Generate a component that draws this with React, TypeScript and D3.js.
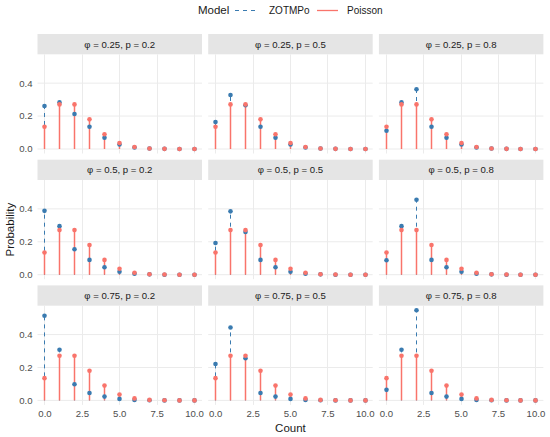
import React from "react";
import * as d3 from "d3";

// counts on the x axis
const counts = [0, 1, 2, 3, 4, 5, 6, 7, 8, 9, 10];

// Poisson reference (same in every panel)
const poisson = [0.135, 0.271, 0.271, 0.180, 0.090, 0.036, 0.012, 0.003, 0.001, 0.0, 0.0];

// ZOTMPo, one array per panel
const zot_025_02 = [0.261, 0.283, 0.213, 0.135, 0.068, 0.027, 0.009, 0.003, 0.001, 0.0, 0.0];
const zot_025_05 = [0.164, 0.328, 0.266, 0.135, 0.068, 0.027, 0.009, 0.003, 0.001, 0.0, 0.0];
const zot_025_08 = [0.111, 0.283, 0.363, 0.135, 0.068, 0.027, 0.009, 0.003, 0.001, 0.0, 0.0];
const zot_05_02 = [0.388, 0.295, 0.155, 0.090, 0.045, 0.018, 0.006, 0.002, 0.0, 0.0, 0.0];
const zot_05_05 = [0.193, 0.385, 0.260, 0.090, 0.045, 0.018, 0.006, 0.002, 0.0, 0.0, 0.0];
const zot_05_08 = [0.088, 0.295, 0.455, 0.090, 0.045, 0.018, 0.006, 0.002, 0.0, 0.0, 0.0];
const zot_075_02 = [0.514, 0.308, 0.098, 0.045, 0.023, 0.009, 0.003, 0.001, 0.0, 0.0, 0.0];
const zot_075_05 = [0.221, 0.443, 0.256, 0.045, 0.023, 0.009, 0.003, 0.001, 0.0, 0.0, 0.0];
const zot_075_08 = [0.064, 0.308, 0.548, 0.045, 0.023, 0.009, 0.003, 0.001, 0.0, 0.0, 0.0];

const phiLabels = ["0.25", "0.5", "0.75"];
const pLabels = ["0.2", "0.5", "0.8"];
const zotGrid = [
  [zot_025_02, zot_025_05, zot_025_08],
  [zot_05_02, zot_05_05, zot_05_08],
  [zot_075_02, zot_075_05, zot_075_08],
];

const xTicks = [0, 2.5, 5, 7.5, 10];
const yTicks = [0, 0.2, 0.4];

const BLUE = "#3a7bb0";
const RED = "#f9746b";
const FONT = "'Liberation Sans', Arial, sans-serif";

export default function App() {
  const W = 550;
  const H = 437;

  const left = 37.5;
  const panelW = 164.5;
  const colStep = 170.7;
  const top = 34;
  const stripH = 20.3;
  const panelH = 99.2;
  const rowStep = 125.7;

  const yMax = d3.max(zotGrid.flat(2).concat(poisson)) as number;
  const yPad = yMax * 0.05;

  const y = d3.scaleLinear().domain([-yPad, yMax + yPad]).range([panelH, 0]);

  const lastPanelBottom = top + 2 * rowStep + stripH + panelH;

  return (
    <svg width={W} height={H} style={{ position: "absolute", left: 0, top: 0 }} fontFamily={FONT}>
      <rect width={W} height={H} fill="#fff" />

      {/* legend */}
      <g>
        <text x={198} y={14} fontSize={11.5} fill="#1a1a1a">Model</text>
        <line x1={235} x2={258} y1={10.5} y2={10.5} stroke={BLUE} strokeWidth={1.1} strokeDasharray="4 4" />
        <text x={269} y={13.5} fontSize={10} fill="#1a1a1a">ZOTMPo</text>
        <line x1={317} x2={338} y1={10.5} y2={10.5} stroke={RED} strokeWidth={1.3} />
        <text x={347} y={13.5} fontSize={10} fill="#1a1a1a">Poisson</text>
      </g>

      {zotGrid.map((row, r) =>
        row.map((zot, c) => {
          const px = left + c * colStep;
          const sy = top + r * rowStep;
          const py = sy + stripH;
          // x scale in page coordinates for this panel, snapped to pixel centres for the stems
          const x = d3.scaleLinear().domain([-0.5, 10.5]).range([px, px + panelW]);
          const sx = (v: number) => Math.round(x(v) - 0.5) + 0.5;
          const yy = (v: number) => py + y(v);
          return (
            <g key={`${r}-${c}`}>
              <rect x={px} y={sy} width={panelW} height={stripH} fill="#e5e5e5" />
              <text x={px + panelW / 2} y={sy + stripH / 2 + 3.5} fontSize={9.6} textAnchor="middle" fill="#1a1a1a">
                {`φ = ${phiLabels[r]}, p = ${pLabels[c]}`}
              </text>
              {yTicks.map((t) => (
                <line key={`gy${t}`} x1={px} x2={px + panelW} y1={yy(t)} y2={yy(t)} stroke="#ebebeb" strokeWidth={1} />
              ))}
              {xTicks.map((t) => (
                <line key={`gx${t}`} x1={sx(t)} x2={sx(t)} y1={py} y2={py + panelH} stroke="#ebebeb" strokeWidth={1} />
              ))}
              {counts.map((k, i) => (
                <line key={`bs${k}`} x1={sx(k)} x2={sx(k)} y1={yy(0)} y2={yy(zot[i])}
                  stroke={BLUE} strokeWidth={1} strokeDasharray="4 4" />
              ))}
              {counts.map((k, i) => (
                <line key={`rs${k}`} x1={sx(k)} x2={sx(k)} y1={yy(0)} y2={yy(poisson[i])}
                  stroke={RED} strokeWidth={1.5} />
              ))}
              {counts.map((k, i) => (
                <circle key={`bp${k}`} cx={sx(k)} cy={yy(zot[i])} r={2.3} fill={BLUE} />
              ))}
              {counts.map((k, i) => (
                <circle key={`rp${k}`} cx={sx(k)} cy={yy(poisson[i])} r={2.3} fill={RED} />
              ))}
              {c === 0 &&
                yTicks.map((t) => (
                  <text key={`yl${t}`} x={px - 5} y={yy(t) + 3.4} fontSize={9.6} textAnchor="end" fill="#4d4d4d">
                    {d3.format(".1f")(t)}
                  </text>
                ))}
              {r === 2 &&
                xTicks.map((t) => (
                  <text key={`xl${t}`} x={x(t)} y={py + panelH + 12} fontSize={9.6} textAnchor="middle" fill="#4d4d4d">
                    {d3.format(".1f")(t)}
                  </text>
                ))}
            </g>
          );
        })
      )}

      {/* axis titles */}
      <text x={left + (2 * colStep + panelW) / 2} y={lastPanelBottom + 27} fontSize={11.5} textAnchor="middle" fill="#1a1a1a">
        Count
      </text>
      <text
        transform={`translate(14,${(top + stripH + lastPanelBottom) / 2}) rotate(-90)`}
        fontSize={11.5}
        textAnchor="middle"
        fill="#1a1a1a"
      >
        Probability
      </text>
    </svg>
  );
}
